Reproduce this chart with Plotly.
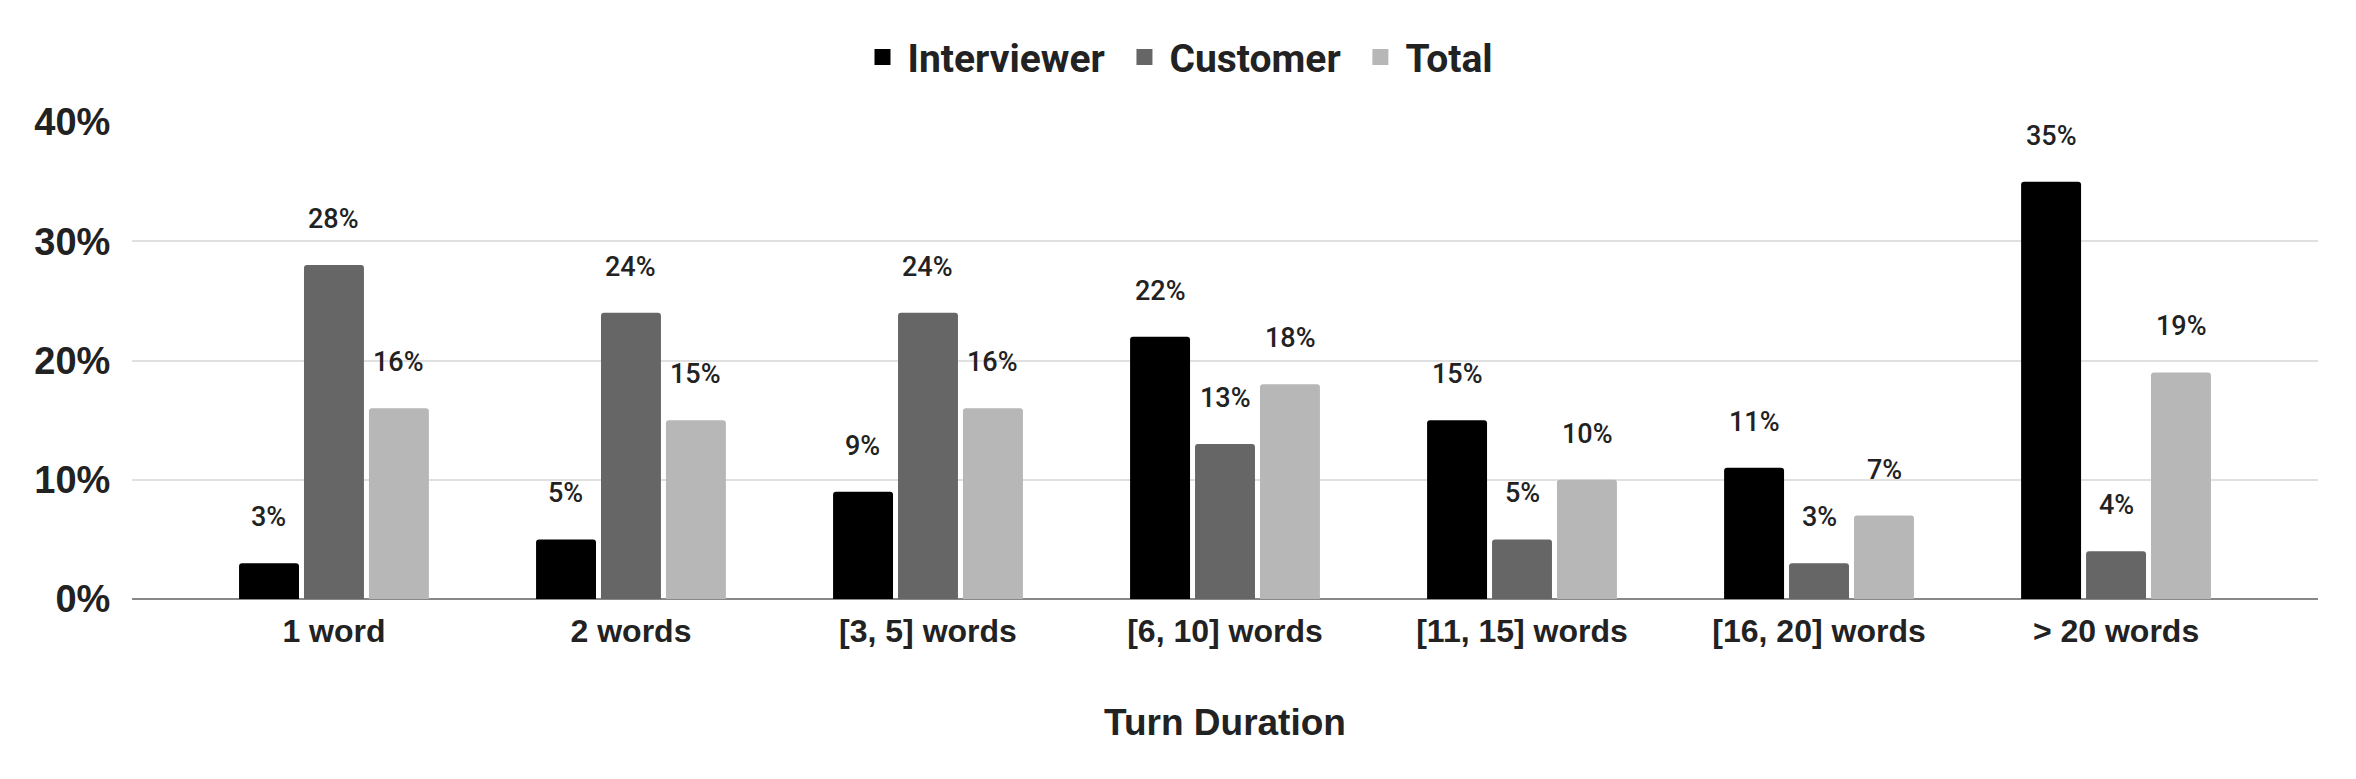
import plotly.graph_objects as go

# turn duration buckets and the share of turns (percent) in each
categories = ["1 word", "2 words", "[3, 5] words", "[6, 10] words",
              "[11, 15] words", "[16, 20] words", "> 20 words"]
interviewer = [3, 5, 9, 22, 15, 11, 35]
customer = [28, 24, 24, 13, 5, 3, 4]
total = [16, 15, 16, 18, 10, 7, 19]

series = [
    ("Interviewer", interviewer, "#000000", -65),
    ("Customer", customer, "#666666", 0),
    ("Total", total, "#b7b7b7", 65),
]

fig = go.Figure()
for name, vals, color, shift in series:
    fig.add_trace(go.Bar(x=categories, y=vals, name=name, showlegend=False,
                         marker=dict(color=color, line=dict(width=0))))
    # legend entry with a bigger square swatch (nbsp widens the gap between entries)
    label = name if name == "Total" else name + "\u00a0"
    fig.add_trace(go.Scatter(x=[None], y=[None], mode="markers", name=label,
                             marker=dict(symbol="square", size=16, color=color)))
    # value labels sit well above each bar
    for cat, v in zip(categories, vals):
        fig.add_annotation(x=cat, y=v, text=f"{v}%", showarrow=False,
                           xshift=shift, yshift=46, yanchor="middle",
                           font=dict(family="Roboto", size=27, color="#222222", weight=500))

fig.update_layout(
    width=2356, height=779,
    margin=dict(l=124, r=46, t=114, b=188, autoexpand=False),
    plot_bgcolor="white", paper_bgcolor="white",
    barmode="group", bargap=0.344, bargroupgap=0.077, barcornerradius=3,
    legend=dict(orientation="h", xref="container", yref="container",
                x=0.4966, xanchor="center", y=0.937, yanchor="middle",
                itemwidth=40,
                font=dict(family="Roboto", size=39, color="#222222", weight="bold"),
                itemclick=False),
    xaxis=dict(range=[-0.68, 6.68], showgrid=False, ticks="outside", ticklen=4,
               tickcolor="rgba(0,0,0,0)",
               tickfont=dict(family="Liberation Sans, Arial", size=32, color="#222222", weight="bold"),
               title=dict(text="Turn Duration", standoff=60,
                          font=dict(family="Liberation Sans, Arial", size=37, color="#222222", weight="bold"))),
    yaxis=dict(range=[0, 40], dtick=10, ticksuffix="%", showgrid=True, gridcolor="#e0e0e0",
               gridwidth=2, zeroline=True, zerolinecolor="#888888", zerolinewidth=2,
               ticks="outside", ticklen=13, tickcolor="rgba(0,0,0,0)",
               tickfont=dict(family="Liberation Sans, Arial", size=38, color="#222222", weight="bold")),
)

fig.write_html("out.html")
